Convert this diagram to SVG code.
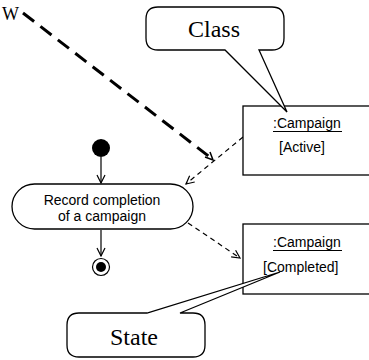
<svg xmlns="http://www.w3.org/2000/svg" width="369" height="360" viewBox="0 0 369 360">
<defs>
<style>
.box{fill:#fff;stroke:#000;stroke-width:1.3}
.lbl{font-family:"Liberation Sans",Arial,sans-serif;font-size:14px;fill:#000}
.big{font-family:"Liberation Serif","Times New Roman",serif;font-size:24px;fill:#000}
.thin{fill:none;stroke:#000;stroke-width:1.2}
.dash{fill:none;stroke:#000;stroke-width:1.2;stroke-dasharray:5 4}
.thick{fill:none;stroke:#000;stroke-width:3;stroke-dasharray:14 8}
</style>
<marker id="open" markerWidth="10" markerHeight="10" refX="9" refY="5" orient="auto" markerUnits="userSpaceOnUse">
<path d="M1,1 L9,5 L1,9" fill="none" stroke="#000" stroke-width="1.2"/>
</marker>
</defs>
<rect width="369" height="360" fill="#fff"/>
<text x="2" y="20" font-family="'Liberation Serif','Times New Roman',serif" font-size="18">W</text>
<g id="connectors">
<line class="thick" x1="23" y1="13" x2="211" y2="158"/>
<path d="M205,157 L213,160 L210,152" fill="none" stroke="#000" stroke-width="1.5"/>
<line class="dash" x1="243" y1="137" x2="186" y2="184" marker-end="url(#open)"/>
<line class="dash" x1="188" y1="223" x2="240" y2="258" marker-end="url(#open)"/>
<line class="thin" x1="101" y1="157" x2="101" y2="183" marker-end="url(#open)"/>
<line class="thin" x1="101" y1="230" x2="101" y2="256" marker-end="url(#open)"/>
</g>
<g id="initial"><circle cx="101" cy="148" r="9" fill="#000"/></g>
<g id="final"><circle cx="101" cy="267" r="8.5" fill="#fff" stroke="#000" stroke-width="1.2"/><circle cx="101" cy="267" r="5" fill="#000"/></g>
<g id="activity">
<rect class="box" x="12" y="184" width="181" height="45" rx="22.5"/>
<text class="lbl" x="102" y="205" text-anchor="middle">Record completion</text>
<text class="lbl" x="102" y="221" text-anchor="middle">of a campaign</text>
</g>
<g id="campaign-active">
<rect class="box" x="243" y="106" width="135" height="69"/>
<text class="lbl" x="273" y="128">:Campaign</text>
<line x1="273" y1="131.5" x2="342" y2="131.5" stroke="#000" stroke-width="1"/>
<text class="lbl" x="279" y="152">[Active]</text>
</g>
<g id="campaign-completed">
<rect class="box" x="243" y="224" width="135" height="70"/>
<text class="lbl" x="273" y="247">:Campaign</text>
<line x1="273" y1="250.5" x2="342" y2="250.5" stroke="#000" stroke-width="1"/>
<text class="lbl" x="263" y="272">[Completed]</text>
</g>
<g id="class-callout">
<path class="box" d="M158,7 L272,7 Q284,7 284,19 L284,38 Q284,50 272,50 L259,50 L287,112 L225,50 L158,50 Q146,50 146,38 L146,19 Q146,7 158,7 Z"/>
<text class="big" x="214" y="37" text-anchor="middle">Class</text>
</g>
<g id="state-callout">
<path class="box" d="M79,313 L147,313 L280,272 L180,313 L193,313 Q205,313 205,325 L205,345 Q205,357 193,357 L79,357 Q67,357 67,345 L67,325 Q67,313 79,313 Z"/>
<text class="big" x="134" y="345" text-anchor="middle">State</text>
</g>
</svg>
